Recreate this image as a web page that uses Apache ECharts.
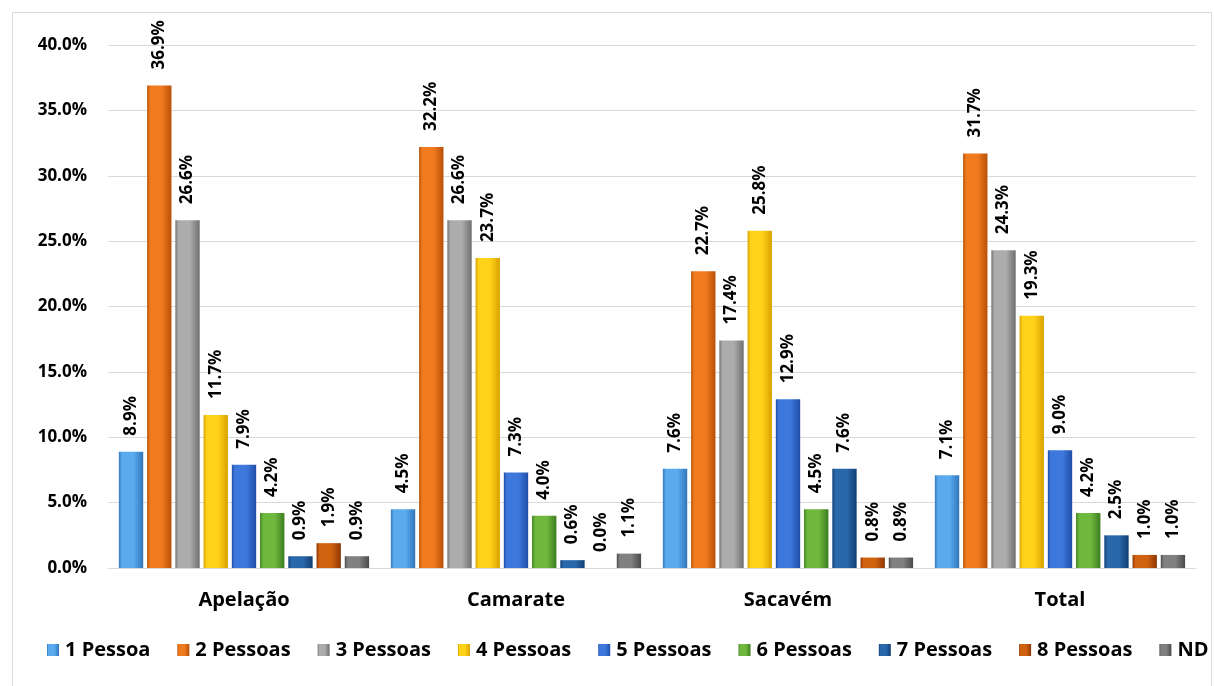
<!DOCTYPE html>
<html><head><meta charset="utf-8">
<script src="https://cdn.jsdelivr.net/npm/echarts@6/dist/echarts.min.js"></script>
<style>html,body{margin:0;padding:0;background:#fff}#frame{position:absolute;left:12px;top:12px;width:1200px;height:680px;border:1px solid #d9d9d9;box-sizing:border-box}#c{position:absolute;left:0;top:0;width:1214px;height:686px}</style>
</head><body><div id="frame"></div><div id="c"></div>
<script>
const categories = ['Apelação', 'Camarate', 'Sacavém', 'Total'];
const seriesNames = ['1 Pessoa', '2 Pessoas', '3 Pessoas', '4 Pessoas', '5 Pessoas', '6 Pessoas', '7 Pessoas', '8 Pessoas', 'ND'];
const s1 = [8.9, 4.5, 7.6, 7.1];
const s2 = [36.9, 32.2, 22.7, 31.7];
const s3 = [26.6, 26.6, 17.4, 24.3];
const s4 = [11.7, 23.7, 25.8, 19.3];
const s5 = [7.9, 7.3, 12.9, 9.0];
const s6 = [4.2, 4.0, 4.5, 4.2];
const s7 = [0.9, 0.6, 7.6, 2.5];
const s8 = [1.9, 0.0, 0.8, 1.0];
const sND = [0.9, 1.1, 0.8, 1.0];
const values = [s1, s2, s3, s4, s5, s6, s7, s8, sND];
const colors = [
  ['#2f78bd', '#5aaaf0'],
  ['#b84f08', '#f07a1e'],
  ['#6f6f6f', '#acacac'],
  ['#d9a000', '#ffd21a'],
  ['#1f4ea6', '#3f78dc'],
  ['#3f7d1f', '#6fb83e'],
  ['#123f72', '#2a68ac'],
  ['#8e3806', '#d0620f'],
  ['#4a4a4a', '#808080']
];
function grad(c) {
  return new echarts.graphic.LinearGradient(0, 0, 1, 0, [
    {offset: 0, color: c[0]}, {offset: 0.12, color: c[1]}, {offset: 0.6, color: c[1]}, {offset: 1, color: c[0]}
  ]);
}
const FONT = '"Open Sans", Lato, sans-serif';
const chart = echarts.init(document.getElementById('c'));
chart.setOption({
  animation: false,
  grid: {left: 108, right: 18, top: 45, bottom: 118},
  legend: {
    bottom: 26, left: 47, width: 1166, padding: 0, itemWidth: 12, itemHeight: 12, itemGap: 27,
    icon: 'rect',
    textStyle: {fontFamily: FONT, fontWeight: 'bold', fontSize: 20, color: '#000', padding: [0, 0, 0, 1]},
    data: seriesNames.map((n, i) => ({name: n, itemStyle: {color: grad(colors[i])}}))
  },
  xAxis: {
    type: 'category', data: categories,
    axisLine: {lineStyle: {color: '#d9d9d9', width: 1}},
    axisTick: {show: false},
    axisLabel: {fontFamily: FONT, fontWeight: 'bold', fontSize: 20, color: '#000', margin: 22}
  },
  yAxis: {
    type: 'value', min: 0, max: 40, interval: 5,
    axisLine: {show: false}, axisTick: {show: false},
    splitLine: {lineStyle: {color: '#d9d9d9', width: 1}},
    axisLabel: {fontFamily: FONT, fontWeight: 'bold', fontSize: 17, color: '#000', margin: 21,
      formatter: v => v.toFixed(1) + '%'}
  },
  series: seriesNames.map((n, i) => ({
    name: n, type: 'bar', data: values[i],
    barGap: '16%', barCategoryGap: '8%',
    itemStyle: {color: grad(colors[i])},
    label: {
      show: true, position: 'top', rotate: 90, align: 'left', verticalAlign: 'middle', distance: 16,
      fontFamily: FONT, fontWeight: 'bold', fontSize: 17, color: '#000',
      formatter: p => p.value.toFixed(1) + '%'
    }
  }))
});
</script></body></html>
